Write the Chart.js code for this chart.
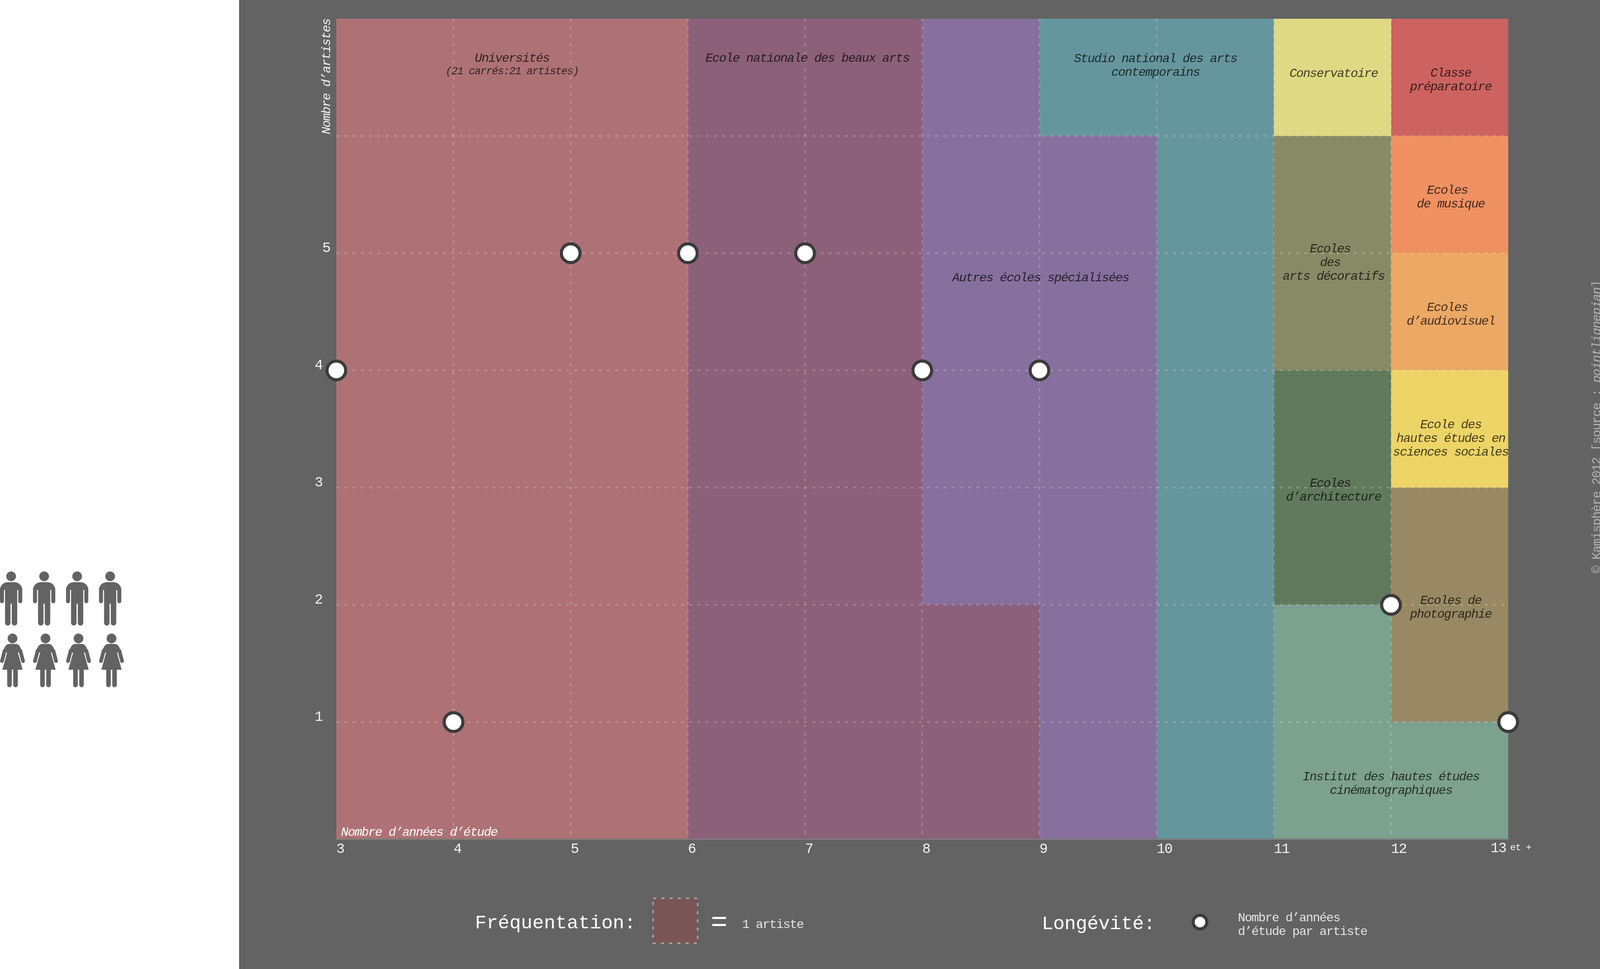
<!DOCTYPE html>
<html lang="fr">
<head>
<meta charset="utf-8">
<title>Kamisphère - fréquentation et longévité</title>
<style>
  html, body { margin: 0; padding: 0; background: #fff; }
  canvas { display: block; }
</style>
<script src="https://cdn.jsdelivr.net/npm/chart.js@4/dist/chart.umd.min.js"></script>
</head>
<body>
<canvas id="chart" width="4120" height="2480"></canvas>
<script>
// left edge of each one-year column
const years = [3, 4, 5, 6, 7, 8, 9, 10, 11, 12];

// artists per school and per column, bottom of the stack first
const universites = [7, 7, 7, 0, 0, 0, 0, 0, 0, 0];
const beauxArts = [0, 0, 0, 7, 7, 2, 0, 0, 0, 0];
const autresEcoles = [0, 0, 0, 0, 0, 5, 6, 0, 0, 0];
const studioNational = [0, 0, 0, 0, 0, 0, 1, 7, 0, 0];
const institutCinema = [0, 0, 0, 0, 0, 0, 0, 0, 2, 1];
const architecture = [0, 0, 0, 0, 0, 0, 0, 0, 2, 0];
const artsDecoratifs = [0, 0, 0, 0, 0, 0, 0, 0, 2, 0];
const conservatoire = [0, 0, 0, 0, 0, 0, 0, 0, 1, 0];
const photographie = [0, 0, 0, 0, 0, 0, 0, 0, 0, 2];
const sciencesSociales = [0, 0, 0, 0, 0, 0, 0, 0, 0, 1];
const audiovisuel = [0, 0, 0, 0, 0, 0, 0, 0, 0, 1];
const musique = [0, 0, 0, 0, 0, 0, 0, 0, 0, 1];
const classePrepa = [0, 0, 0, 0, 0, 0, 0, 0, 0, 1];

// longevity points
const studyYears = [3, 4, 5, 6, 7, 8, 9, 12, 13];
const artistCounts = [4, 1, 5, 5, 5, 4, 4, 2, 1];

const xTickLabels = [3, 4, 5, 6, 7, 8, 9, 10, 11, 12];
const yTickLabels = [1, 2, 3, 4, 5];

const FONT = '"Liberation Mono", monospace';
const PANEL = '#636363';

function series(label, values, color) {
  return {
    label: label,
    data: values.map((v, i) => ({ x: years[i] + 0.5, y: v })),
    backgroundColor: color,
    borderWidth: 0,
    barPercentage: 1,
    categoryPercentage: 1
  };
}

// school names, placed in axis units
const schoolLabels = [
  { lines: ['Universités'], x: 4.5, y: 6.66 },
  { lines: ['Ecole nationale des beaux arts'], x: 7.02, y: 6.66 },
  { lines: ['Autres écoles spécialisées'], x: 9.01, y: 4.787 },
  { lines: ['Studio national des arts', 'contemporains'], x: 9.99, y: 6.6 },
  { lines: ['Conservatoire'], x: 11.51, y: 6.533 },
  { lines: ['Classe', 'préparatoire'], x: 12.51, y: 6.475 },
  { lines: ['Ecoles ', 'de musique'], x: 12.51, y: 5.475 },
  { lines: ['Ecoles ', 'des ', 'arts décoratifs'], x: 11.51, y: 4.917 },
  { lines: ['Ecoles ', 'd’audiovisuel'], x: 12.51, y: 4.475 },
  { lines: ['Ecole des', 'hautes études en', 'sciences sociales'], x: 12.51, y: 3.417 },
  { lines: ['Ecoles ', 'd’architecture'], x: 11.51, y: 2.975 },
  { lines: ['Ecoles de', 'photographie'], x: 12.51, y: 1.975 },
  { lines: ['Institut des hautes études', 'cinématographiques'], x: 12.0, y: 0.473 }
];

function text(ctx, str, x, y, size, opts) {
  const o = opts || {};
  ctx.font = (o.style || 'normal') + ' ' + (o.weight || 400) + ' ' + size + 'px ' + FONT;
  ctx.letterSpacing = (o.spacing === undefined ? -1.8 : o.spacing) + 'px';
  ctx.fillStyle = o.color || '#fff';
  ctx.textAlign = o.align || 'left';
  ctx.textBaseline = o.baseline || 'alphabetic';
  ctx.fillText(str, x, y);
}

function drawMan(ctx, cx) {
  ctx.beginPath();
  ctx.ellipse(cx, 1475, 12.5, 12.5, 0, 0, Math.PI * 2);
  ctx.roundRect(cx - 28.5, 1490, 57, 20, [20, 20, 0, 0]);
  ctx.roundRect(cx - 28.5, 1505, 10.2, 39, [0, 0, 5, 5]);
  ctx.roundRect(cx + 18.3, 1505, 10.2, 39, [0, 0, 5, 5]);
  ctx.rect(cx - 15.6, 1505, 31.2, 40);
  ctx.roundRect(cx - 15.6, 1544, 14, 57, [0, 0, 7, 7]);
  ctx.roundRect(cx + 1.6, 1544, 14, 57, [0, 0, 7, 7]);
  ctx.fill();
}

function drawWoman(ctx, cx) {
  ctx.beginPath();
  ctx.ellipse(cx, 1634, 12.5, 12.5, 0, 0, Math.PI * 2);
  ctx.moveTo(cx - 24, 1670);
  ctx.quadraticCurveTo(cx - 20, 1648, cx - 8, 1648);
  ctx.lineTo(cx + 8, 1648);
  ctx.quadraticCurveTo(cx + 20, 1648, cx + 24, 1670);
  ctx.closePath();
  ctx.moveTo(cx - 11, 1660);
  ctx.lineTo(cx + 11, 1660);
  ctx.lineTo(cx + 26, 1714);
  ctx.lineTo(cx - 26, 1714);
  ctx.closePath();
  ctx.roundRect(cx - 13.6, 1710, 11.8, 49, [0, 0, 6, 6]);
  ctx.roundRect(cx + 1.8, 1710, 11.8, 49, [0, 0, 6, 6]);
  ctx.fill();
  ctx.beginPath();
  ctx.lineCap = 'round';
  ctx.lineWidth = 9.5;
  ctx.moveTo(cx - 20, 1665);
  ctx.lineTo(cx - 27, 1692);
  ctx.moveTo(cx + 20, 1665);
  ctx.lineTo(cx + 27, 1692);
  ctx.stroke();
}

function drawPoints(chart) {
  const index = chart.data.datasets.findIndex(d => d.type === 'scatter');
  chart.getDatasetMeta(index).controller.draw();
}

const page = {
  id: 'page',
  beforeDraw(chart) {
    const ctx = chart.ctx;
    ctx.letterSpacing = '-1.8px';
    ctx.save();
    ctx.fillStyle = '#fff';
    ctx.fillRect(0, 0, chart.width, chart.height);
    ctx.fillStyle = PANEL;
    ctx.fillRect(612, 0, chart.width - 612, chart.height);
    ctx.strokeStyle = PANEL;
    [28.5, 113, 197.5, 282].forEach(cx => drawMan(ctx, cx));
    [32, 116.5, 201, 285.5].forEach(cx => drawWoman(ctx, cx));
    ctx.restore();
  },
  // the points go above the grid, which itself sits above the bars
  beforeDatasetDraw(chart, args) {
    if (args.meta.type === 'scatter') return false;
  },
  afterDraw(chart) {
    const ctx = chart.ctx;
    const x = chart.scales.x;
    const y = chart.scales.y;
    const dark = 'rgba(0,0,0,0.72)';

    schoolLabels.forEach(l => {
      const cx = x.getPixelForValue(l.x);
      const cy = y.getPixelForValue(l.y);
      const start = cy - (l.lines.length - 1) * 17.5;
      l.lines.forEach((line, i) => {
        text(ctx, line, cx, start + i * 35, 32, { style: 'italic', color: dark, align: 'center', baseline: 'middle' });
      });
    });
    text(ctx, '(21 carrés:21 artistes)', x.getPixelForValue(4.5), 183, 27, { style: 'italic', color: dark, align: 'center', baseline: 'middle', spacing: -1.4 });
    text(ctx, 'Nombre d’années d’étude', 873, 2139, 32, { style: 'italic' });

    // last tick sits left of its line, with its suffix after it
    text(ctx, '13', x.getPixelForValue(13) - 45, 2181, 36, { color: '#f2f2f2' });
    text(ctx, 'et +', 3866, 2176, 24, { color: '#f2f2f2', spacing: -1 });

    // legend
    text(ctx, 'Fréquentation:', 1216, 2376, 49, { spacing: 0 });
    ctx.fillStyle = '#795655';
    ctx.fillRect(1672, 2299, 114, 115);
    ctx.save();
    ctx.strokeStyle = '#a3a3a3';
    ctx.lineWidth = 4;
    ctx.setLineDash([8, 13]);
    ctx.strokeRect(1672, 2299, 114, 115);
    ctx.restore();
    text(ctx, '=', 1841, 2363, 72, { align: 'center', baseline: 'middle', spacing: 0 });
    text(ctx, '1 artiste', 1900, 2375, 32, { color: '#e4e4e4' });

    text(ctx, 'Longévité:', 2667, 2378, 49, { spacing: -0.4 });
    ctx.beginPath();
    ctx.arc(3072, 2360, 17.5, 0, Math.PI * 2);
    ctx.fillStyle = '#fff';
    ctx.fill();
    ctx.lineWidth = 8;
    ctx.strokeStyle = '#3b3b3b';
    ctx.stroke();
    text(ctx, 'Nombre d’années', 3169, 2358, 32, { color: '#e4e4e4' });
    text(ctx, 'd’étude par artiste', 3169, 2393, 32, { color: '#e4e4e4' });

    // credit running up the right margin
    ctx.save();
    ctx.translate(4097, 1467);
    ctx.rotate(-Math.PI / 2);
    const grey = '#b4b4b4';
    text(ctx, '© Kamisphère 2012 [source : ', 0, 0, 32, { color: grey });
    text(ctx, 'pointlignepian', 28 * 17.4, 0, 32, { color: grey, style: 'italic' });
    text(ctx, ']', 42 * 17.4, 0, 32, { color: grey });
    ctx.restore();

    drawPoints(chart);
  }
};

new Chart(document.getElementById('chart'), {
  type: 'bar',
  data: {
    datasets: [
      series('Universités', universites, '#ae7276'),
      series('Ecole nationale des beaux arts', beauxArts, '#8c6078'),
      series('Autres écoles spécialisées', autresEcoles, '#87709e'),
      series('Studio national des arts contemporains', studioNational, '#65969e'),
      series('Institut des hautes études cinématographiques', institutCinema, '#7da18f'),
      series('Ecoles d’architecture', architecture, '#617a5d'),
      series('Ecoles des arts décoratifs', artsDecoratifs, '#878b65'),
      series('Conservatoire', conservatoire, '#dfd983'),
      series('Ecoles de photographie', photographie, '#988964'),
      series('Ecole des hautes études en sciences sociales', sciencesSociales, '#edd466'),
      series('Ecoles d’audiovisuel', audiovisuel, '#eca864'),
      series('Ecoles de musique', musique, '#f09162'),
      series('Classe préparatoire', classePrepa, '#cc6361'),
      {
        type: 'scatter',
        label: 'Longévité',
        data: studyYears.map((v, i) => ({ x: v, y: artistCounts[i] })),
        backgroundColor: '#fff',
        borderColor: '#3b3b3b',
        borderWidth: 8,
        pointRadius: 24,
        clip: false
      }
    ]
  },
  options: {
    responsive: false,
    animation: false,
    devicePixelRatio: 1,
    layout: { padding: { left: 801, top: 48, right: 259, bottom: 0 } },
    plugins: { legend: { display: false }, tooltip: { enabled: false } },
    scales: {
      x: {
        type: 'linear',
        stacked: true,
        offset: false,
        min: 3,
        max: 13,
        afterFit: s => { s.height = 332; },
        afterBuildTicks: s => { s.ticks = xTickLabels.concat(13).map(v => ({ value: v })); },
        grid: {
          offset: false,
          z: 1,
          drawTicks: false,
          lineWidth: 4,
          color: c => (c.tick.value === 3 || c.tick.value === 13 ? 'transparent' : 'rgba(255,255,255,0.2)')
        },
        border: { color: '#8a8a8a', width: 2, dash: [8, 13], z: 1 },
        ticks: {
          autoSkip: false,
          maxRotation: 0,
          align: 'start',
          padding: 4,
          color: '#f2f2f2',
          font: { family: FONT, size: 36 },
          callback: v => (xTickLabels.includes(v) ? String(v) : '')
        }
      },
      y: {
        stacked: true,
        min: 0,
        max: 7,
        afterFit: s => { s.width = 60; },
        afterBuildTicks: s => { s.ticks = [0, 1, 2, 3, 4, 5, 6, 7].map(v => ({ value: v })); },
        grid: {
          z: 1,
          drawTicks: false,
          lineWidth: 4,
          color: c => (c.tick.value === 0 || c.tick.value === 7 ? 'transparent' : 'rgba(255,255,255,0.2)')
        },
        border: { display: false, dash: [8, 13], z: 1 },
        ticks: {
          autoSkip: false,
          padding: 16,
          labelOffset: -13,
          color: '#f2f2f2',
          font: { family: FONT, size: 36 },
          // the 5 stands further right than the other labels in the original
          callback: v => (yTickLabels.includes(v) ? (v === 5 ? '5' : v + ' ') : '')
        },
        title: {
          display: true,
          text: 'Nombre d’artistes',
          align: 'end',
          color: '#f2f2f2',
          padding: { top: 16, bottom: 0 },
          font: { family: FONT, size: 32, style: 'italic' }
        }
      }
    }
  },
  plugins: [page]
});
</script>
</body>
</html>
